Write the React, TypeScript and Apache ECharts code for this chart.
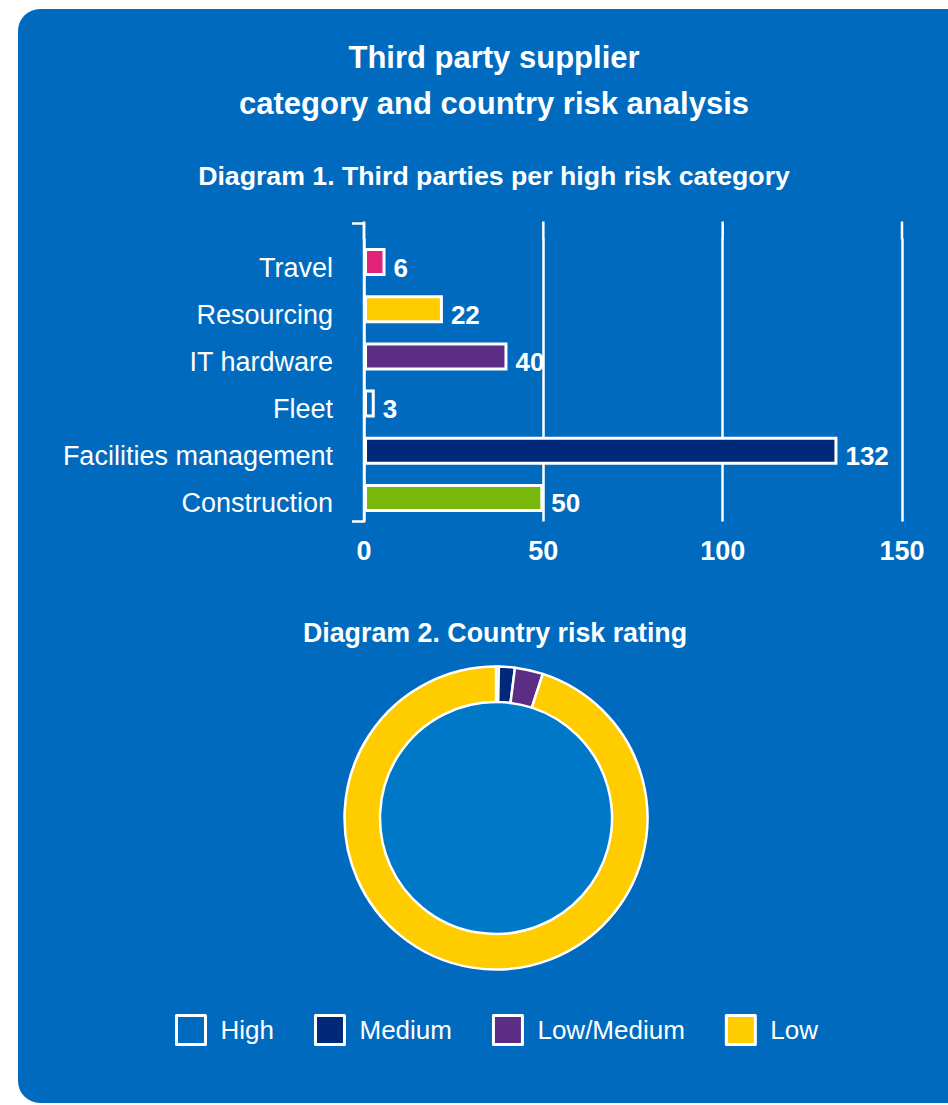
import React, { useEffect, useRef } from "react";
import * as echarts from "echarts";

const FONT = "'Liberation Sans', Arial, sans-serif";

const mainTitle = ["Third party supplier", "category and country risk analysis"];
const diagram1Title = "Diagram 1. Third parties per high risk category";
const diagram2Title = "Diagram 2. Country risk rating";

const categories = ["Travel", "Resourcing", "IT hardware", "Fleet", "Facilities management", "Construction"];
const thirdParties = [6, 22, 40, 3, 132, 50];
const barColors = ["#E2237A", "#FFCC00", "#5B2D84", "#006ABE", "#00297A", "#78B70B"];
const xTicks = [0, 50, 100, 150];

const riskLevels = ["High", "Medium", "Low/Medium", "Low"];
const riskShares = [0.3, 1.7, 3, 95];
const riskColors = ["#006ABE", "#00297A", "#5B2D84", "#FFCC00"];

const PANEL = "#006ABE";
const INNER = "#0078C8";

const GRID_TOP = 238.5;
const GRID_BOTTOM_Y = 521.5;
const EXT = 15;

export default function App() {
  const ref = useRef<HTMLDivElement>(null);

  useEffect(() => {
    if (!ref.current) return;
    const chart = echarts.init(ref.current, undefined, { renderer: "svg", width: 948, height: 1105 });

    const option: any = {
      animation: false,
      backgroundColor: "transparent",
      textStyle: { fontFamily: FONT },
      grid: { left: 364, right: 46, top: GRID_TOP, bottom: 1105 - GRID_BOTTOM_Y, containLabel: false },
      xAxis: {
        type: "value",
        min: xTicks[0],
        max: xTicks[xTicks.length - 1],
        interval: 50,
        axisLine: { show: false },
        axisTick: { show: false },
        splitLine: { show: true, lineStyle: { color: "#fff", width: 2.5 } },
        axisLabel: { color: "#fff", fontWeight: "bold", fontSize: 27, margin: 16, fontFamily: FONT },
      },
      yAxis: {
        type: "category",
        data: categories,
        inverse: true,
        axisLine: { show: false },
        axisTick: { show: false },
        splitLine: { show: false },
        axisLabel: {
          color: "#fff",
          fontSize: 27,
          margin: 31,
          fontFamily: FONT,
          verticalAlign: "top",
          lineHeight: 11,
        },
      },
      legend: {
        data: riskLevels,
        top: 1009,
        left: 170,
        icon: "rect",
        itemWidth: 29,
        itemHeight: 29,
        itemGap: 40,
        itemStyle: { borderColor: "#fff", borderWidth: 3 },
        textStyle: { color: "#fff", fontSize: 26, fontFamily: FONT, padding: [3, 0, 0, 10] },
      },
      series: [
        {
          type: "bar",
          data: thirdParties.map((v, i) => ({
            value: v,
            itemStyle: { color: barColors[i], borderColor: "#fff", borderWidth: 3 },
          })),
          barWidth: 28,
          label: {
            show: true,
            position: "right",
            distance: 8,
            color: "#fff",
            fontWeight: "bold",
            fontSize: 26,
            fontFamily: FONT,
            verticalAlign: "top",
            lineHeight: 11,
          },
        },
        {
          type: "pie",
          silent: true,
          center: [496, 818],
          radius: [0, 115],
          label: { show: false },
          labelLine: { show: false },
          itemStyle: { color: INNER },
          data: [{ value: 1, name: "inner" }],
        },
        {
          type: "pie",
          center: [496, 818],
          radius: [116, 151.5],
          startAngle: 90,
          clockwise: true,
          label: { show: false },
          labelLine: { show: false },
          itemStyle: { borderColor: "#fff", borderWidth: 2.5 },
          data: riskLevels.map((n, i) => ({
            name: n,
            value: riskShares[i],
            itemStyle: { color: riskColors[i] },
          })),
        },
      ],
    };
    chart.setOption(option);

    const x0 = chart.convertToPixel({ xAxisIndex: 0 }, 0) as number;
    const gridExt = xTicks.map((t) => {
      const px = chart.convertToPixel({ xAxisIndex: 0 }, t) as number;
      return {
        type: "line",
        shape: { x1: px, y1: GRID_TOP - EXT - 2, x2: px, y2: GRID_TOP + 1 },
        style: { stroke: "#fff", lineWidth: 2.5 },
      };
    });

    const titleStyle = (text: string, size: number) => ({
      text,
      fill: "#fff",
      font: `bold ${size}px ${FONT}`,
      textAlign: "center",
      textVerticalAlign: "middle",
    });

    chart.setOption({
      graphic: [
        { type: "text", x: 494, y: 57, style: titleStyle(mainTitle[0], 31) },
        { type: "text", x: 494, y: 103, style: titleStyle(mainTitle[1], 31) },
        { type: "text", x: 494, y: 176, style: titleStyle(diagram1Title, 26.7) },
        { type: "text", x: 495, y: 633, style: titleStyle(diagram2Title, 26.8) },
        ...gridExt,
        {
          type: "polyline",
          shape: {
            points: [
              [x0 - 12, GRID_TOP - EXT],
              [x0, GRID_TOP - EXT],
              [x0, GRID_BOTTOM_Y],
              [x0 - 12, GRID_BOTTOM_Y],
            ],
          },
          style: { stroke: "#fff", lineWidth: 2.5, fill: null },
        },
      ],
    });

    return () => chart.dispose();
  }, []);

  return (
    <div style={{ position: "fixed", left: 0, top: 0, width: 948, height: 1105, background: "#fff", overflow: "hidden" }}>
      <div
        style={{
          position: "absolute",
          left: 18,
          top: 9,
          width: 960,
          height: 1094,
          background: PANEL,
          borderRadius: 22,
        }}
      />
      <div ref={ref} style={{ position: "absolute", left: 0, top: 0, width: 948, height: 1105 }} />
    </div>
  );
}
